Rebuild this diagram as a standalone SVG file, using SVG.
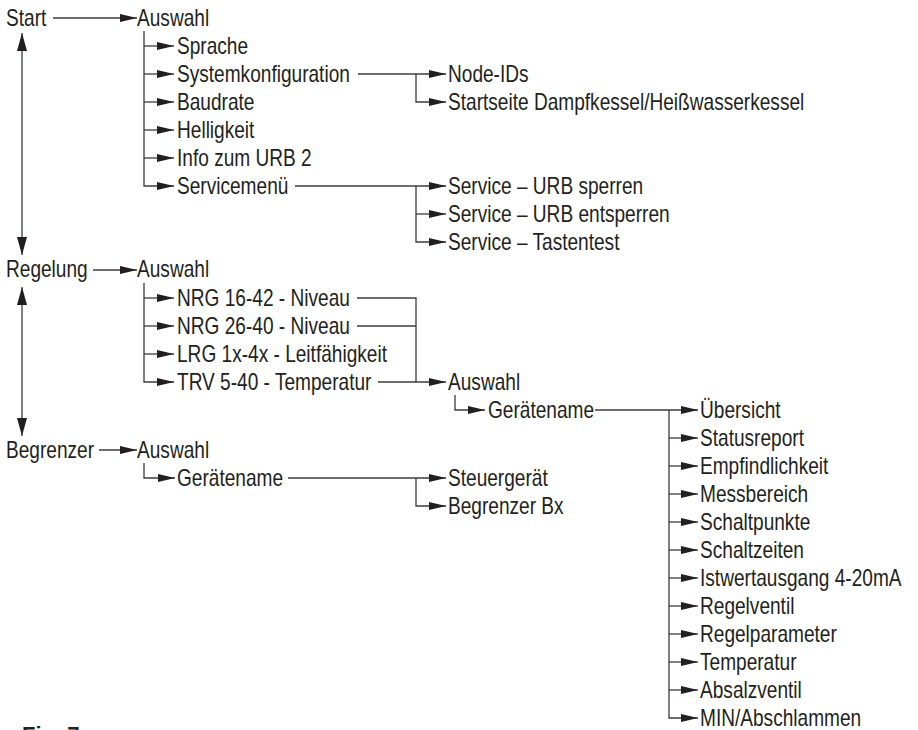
<svg xmlns="http://www.w3.org/2000/svg" width="918" height="730" viewBox="0 0 918 730">
<style>
.t{font-family:"Liberation Sans",Arial,sans-serif;font-size:23px;fill:#231f20}
.f{font-family:"Liberation Sans",Arial,sans-serif;font-size:22px;font-weight:bold;fill:#231f20}
.c{stroke:#3c3c3c;stroke-width:1.3;fill:none}
.a{marker-end:url(#ah)}
.d{marker-start:url(#av);marker-end:url(#av)}
</style>
<defs>
<marker id="ah" viewBox="0 0 17 8" markerWidth="17" markerHeight="8" refX="17" refY="4" markerUnits="userSpaceOnUse" orient="auto"><path d="M0,0 L17,4 L0,8 Z" fill="#231f20"/></marker>
<marker id="av" viewBox="0 0 18 10" markerWidth="18" markerHeight="10" refX="18" refY="5" markerUnits="userSpaceOnUse" orient="auto-start-reverse"><path d="M0,0 L18,5 L0,10 Z" fill="#231f20"/></marker>
</defs>
<rect width="918" height="730" fill="#fff"/>
<g id="connectors">
<path class="c a" d="M53,18 H137"/>
<path class="c a" d="M144,31 V186 H174"/>
<path class="c a" d="M144,46 H174"/>
<path class="c a" d="M144,74 H174"/>
<path class="c a" d="M144,102 H174"/>
<path class="c a" d="M144,130 H174"/>
<path class="c a" d="M144,158 H174"/>
<path class="c a" d="M358,74 H446"/>
<path class="c a" d="M416,74 V102 H446"/>
<path class="c a" d="M295,186 H446"/>
<path class="c a" d="M416,186 V242 H446"/>
<path class="c a" d="M416,214 H446"/>
<path class="c d" d="M22,33 V255"/>
<path class="c a" d="M93,270 H137"/>
<path class="c a" d="M144,283 V382 H174"/>
<path class="c a" d="M144,298 H174"/>
<path class="c a" d="M144,326 H174"/>
<path class="c a" d="M144,354 H174"/>
<path class="c" d="M357,298 H416 V382"/>
<path class="c" d="M357,326 H416"/>
<path class="c a" d="M378,382 H446"/>
<path class="c a" d="M455,395 V410 H485"/>
<path class="c a" d="M595,410 H698"/>
<path class="c a" d="M669,410 V718 H698"/>
<path class="c a" d="M669,438 H698"/>
<path class="c a" d="M669,466 H698"/>
<path class="c a" d="M669,494 H698"/>
<path class="c a" d="M669,522 H698"/>
<path class="c a" d="M669,550 H698"/>
<path class="c a" d="M669,578 H698"/>
<path class="c a" d="M669,606 H698"/>
<path class="c a" d="M669,634 H698"/>
<path class="c a" d="M669,662 H698"/>
<path class="c a" d="M669,690 H698"/>
<path class="c d" d="M22,287 V436"/>
<path class="c a" d="M99,450 H137"/>
<path class="c a" d="M144,463 V478 H175"/>
<path class="c a" d="M288,478 H446"/>
<path class="c a" d="M416,478 V506 H446"/>
</g>
<g id="n-start" transform="translate(6,0) scale(0.83,1)"><text class="t" y="26">Start</text></g>
<g id="n-auswahl-start" transform="translate(137,0) scale(0.83,1)"><text class="t" y="26">Auswahl</text></g>
<g id="n-sprache" transform="translate(177,0) scale(0.83,1)"><text class="t" y="54">Sprache</text></g>
<g id="n-systemkonfiguration" transform="translate(177,0) scale(0.83,1)"><text class="t" y="82">Systemkonfiguration</text></g>
<g id="n-node-ids" transform="translate(448,0) scale(0.83,1)"><text class="t" y="82">Node-IDs</text></g>
<g id="n-startseite" transform="translate(448,0) scale(0.83,1)"><text class="t" y="110">Startseite Dampfkessel/Heißwasserkessel</text></g>
<g id="n-baudrate" transform="translate(177,0) scale(0.83,1)"><text class="t" y="110">Baudrate</text></g>
<g id="n-helligkeit" transform="translate(177,0) scale(0.83,1)"><text class="t" y="138">Helligkeit</text></g>
<g id="n-info" transform="translate(177,0) scale(0.83,1)"><text class="t" y="166">Info zum URB 2</text></g>
<g id="n-servicemenue" transform="translate(177,0) scale(0.83,1)"><text class="t" y="194">Servicemenü</text></g>
<g id="n-urb-sperren" transform="translate(448,0) scale(0.83,1)"><text class="t" y="194">Service – URB sperren</text></g>
<g id="n-urb-entsperren" transform="translate(448,0) scale(0.83,1)"><text class="t" y="222">Service – URB entsperren</text></g>
<g id="n-tastentest" transform="translate(448,0) scale(0.83,1)"><text class="t" y="250">Service – Tastentest</text></g>
<g id="n-regelung" transform="translate(6,0) scale(0.83,1)"><text class="t" y="277">Regelung</text></g>
<g id="n-auswahl-regelung" transform="translate(137,0) scale(0.83,1)"><text class="t" y="277">Auswahl</text></g>
<g id="n-nrg1642" transform="translate(177,0) scale(0.83,1)"><text class="t" y="306">NRG 16-42 - Niveau</text></g>
<g id="n-nrg2640" transform="translate(177,0) scale(0.83,1)"><text class="t" y="334">NRG 26-40 - Niveau</text></g>
<g id="n-lrg" transform="translate(177,0) scale(0.83,1)"><text class="t" y="362">LRG 1x-4x - Leitfähigkeit</text></g>
<g id="n-trv" transform="translate(177,0) scale(0.83,1)"><text class="t" y="390">TRV 5-40 - Temperatur</text></g>
<g id="n-auswahl-geraet" transform="translate(448,0) scale(0.83,1)"><text class="t" y="390">Auswahl</text></g>
<g id="n-geraetename-r" transform="translate(488,0) scale(0.83,1)"><text class="t" y="418">Gerätename</text></g>
<g id="n-uebersicht" transform="translate(700,0) scale(0.83,1)"><text class="t" y="418">Übersicht</text></g>
<g id="n-statusreport" transform="translate(700,0) scale(0.83,1)"><text class="t" y="446">Statusreport</text></g>
<g id="n-empfindlichkeit" transform="translate(700,0) scale(0.83,1)"><text class="t" y="474">Empfindlichkeit</text></g>
<g id="n-messbereich" transform="translate(700,0) scale(0.83,1)"><text class="t" y="502">Messbereich</text></g>
<g id="n-schaltpunkte" transform="translate(700,0) scale(0.83,1)"><text class="t" y="530">Schaltpunkte</text></g>
<g id="n-schaltzeiten" transform="translate(700,0) scale(0.83,1)"><text class="t" y="558">Schaltzeiten</text></g>
<g id="n-istwert" transform="translate(700,0) scale(0.83,1)"><text class="t" y="586">Istwertausgang 4-20mA</text></g>
<g id="n-regelventil" transform="translate(700,0) scale(0.83,1)"><text class="t" y="614">Regelventil</text></g>
<g id="n-regelparameter" transform="translate(700,0) scale(0.83,1)"><text class="t" y="642">Regelparameter</text></g>
<g id="n-temperatur" transform="translate(700,0) scale(0.83,1)"><text class="t" y="670">Temperatur</text></g>
<g id="n-absalzventil" transform="translate(700,0) scale(0.83,1)"><text class="t" y="698">Absalzventil</text></g>
<g id="n-min" transform="translate(700,0) scale(0.83,1)"><text class="t" y="726">MIN/Abschlammen</text></g>
<g id="n-begrenzer" transform="translate(6,0) scale(0.83,1)"><text class="t" y="458">Begrenzer</text></g>
<g id="n-auswahl-begrenzer" transform="translate(137,0) scale(0.83,1)"><text class="t" y="458">Auswahl</text></g>
<g id="n-geraetename-b" transform="translate(177,0) scale(0.83,1)"><text class="t" y="486">Gerätename</text></g>
<g id="n-steuergeraet" transform="translate(448,0) scale(0.83,1)"><text class="t" y="486">Steuergerät</text></g>
<g id="n-begrenzer-bx" transform="translate(448,0) scale(0.83,1)"><text class="t" y="514">Begrenzer Bx</text></g>
<text class="f" x="22" y="742">Fig. 7</text>
</svg>
